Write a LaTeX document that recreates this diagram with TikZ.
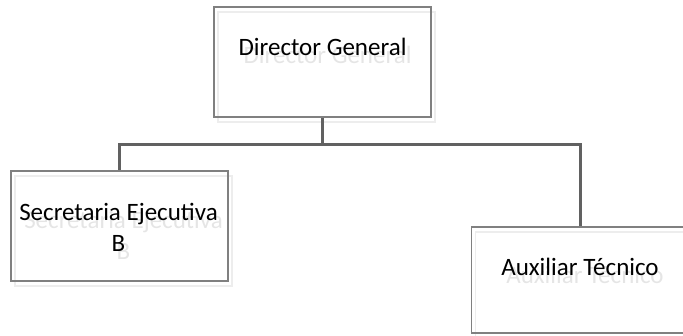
\documentclass[tikz,border=0pt]{standalone}
\usepackage{fontspec}
\setmainfont{Carlito}

\begin{document}
\begin{tikzpicture}[x=1pt,y=-1pt,semithick]
\tikzstyle{caja}=[draw=gray,line width=1.1pt,minimum width=217pt,minimum height=110pt,inner sep=0pt]
\tikzstyle{sombra}=[caja,draw=black!7]
\tikzstyle{texto}=[font=\fontsize{25}{30.5}\selectfont,align=center,inner sep=0pt]
\tikzstyle{fantasma}=[texto,text=black!10]
\tikzstyle{linea}=[draw=black!62,line width=3pt]
\useasboundingbox (0,0) rectangle (683,335);
\node[sombra] (dgs) at (326.5,67) {};
\node[sombra] (ses) at (123.5,231) {};
\node[sombra,minimum height=106pt] (ats) at (584,285) {};
\node[fantasma] (dgts) at (327.5,55) {Director General};
\node[fantasma] (sets) at (123.5,235.5) {Secretaria Ejecutiva\\B};
\node[fantasma] (atts) at (585,275) {Auxiliar Técnico};
\node[caja] (dg) at (322.5,62) {};
\node[caja] (se) at (119.5,226) {};
\node[caja,minimum height=106pt] (at) at (580,280) {};
\node[texto] (dgt) at (322.5,47) {Director General};
\node[texto] (set) at (118.5,227.5) {Secretaria Ejecutiva\\B};
\node[texto] (att) at (580,267) {Auxiliar Técnico};
\coordinate (bus) at (322.5,144);
\draw[linea] (dg.south) -- (bus) -| (se.north);
\draw[linea] (bus) -| (at.north);
\end{tikzpicture}
\end{document}
